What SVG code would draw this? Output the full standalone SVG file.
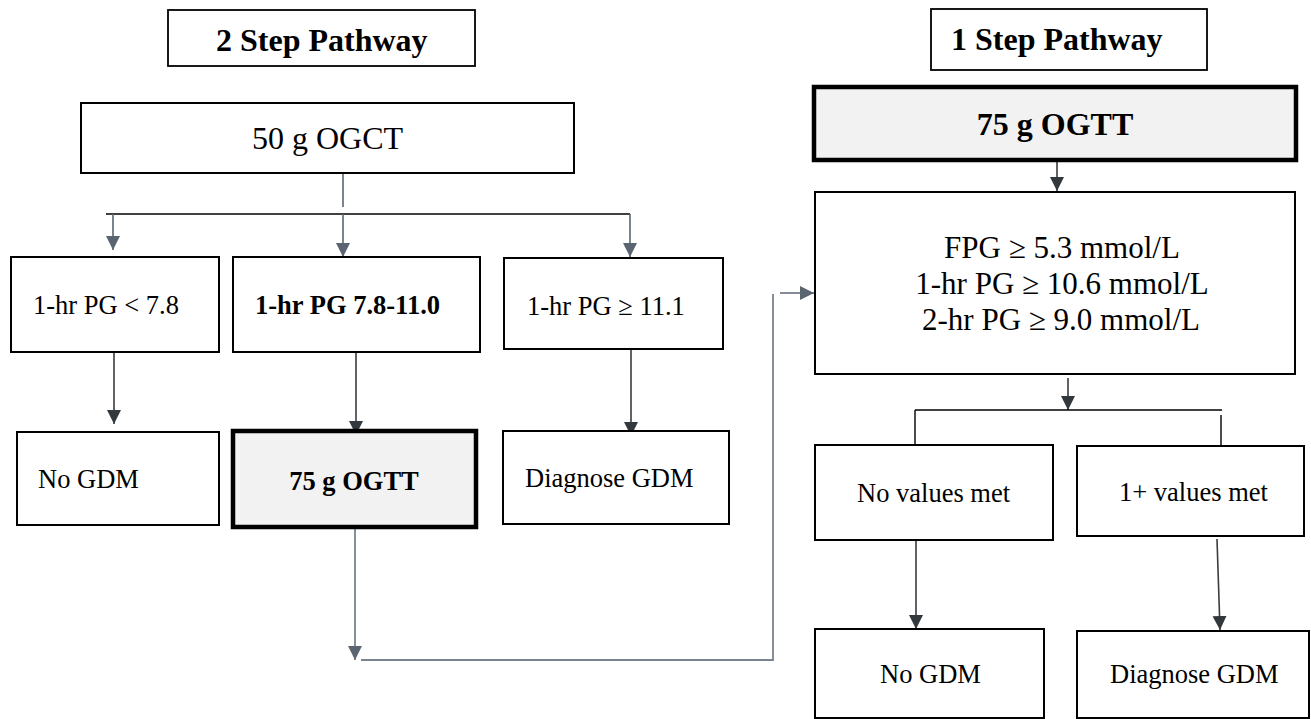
<svg xmlns="http://www.w3.org/2000/svg" width="1311" height="719" viewBox="0 0 1311 719">
<defs>
<style>
.box{fill:#fff;stroke:#000;stroke-width:2}
.hdr{fill:#fff;stroke:#000;stroke-width:1.8}
.thick{fill:#f2f2f2;stroke:#000;stroke-width:4.5}
.t{font-family:"Liberation Serif","Times New Roman",serif;fill:#000}
.s{font-size:26.5px}
.b{font-weight:bold}
.big{font-size:32px}
.mid{font-size:31px}
.c{text-anchor:middle}
.g{stroke:#5b6572;stroke-width:1.6;fill:none}
.d{stroke:#383d42;stroke-width:1.6;fill:none}
.k{stroke:#000;stroke-width:1.4;fill:none}
.lg{stroke:#7a848f;stroke-width:1.8;fill:none}
</style>
<marker id="ag" markerUnits="userSpaceOnUse" markerWidth="15" markerHeight="15" refX="14" refY="7" orient="auto"><path d="M0,0 L14,7 L0,14 z" fill="#5b6572"/></marker>
<marker id="ad" markerUnits="userSpaceOnUse" markerWidth="15" markerHeight="15" refX="14" refY="7" orient="auto"><path d="M0,0 L14,7 L0,14 z" fill="#33383d"/></marker>
</defs>
<g id="connectors">
<line class="g" x1="343" y1="173" x2="343" y2="207"/>
<line class="k" x1="106" y1="214" x2="630" y2="214"/>
<line class="g" x1="113" y1="214" x2="113" y2="250" marker-end="url(#ag)"/>
<line class="g" x1="343" y1="214" x2="343" y2="257" marker-end="url(#ag)"/>
<line class="g" x1="630" y1="214" x2="630" y2="257" marker-end="url(#ag)"/>
<line class="d" x1="114" y1="352" x2="114" y2="424" marker-end="url(#ad)"/>
<line class="d" x1="356" y1="352" x2="356" y2="435" marker-end="url(#ad)"/>
<line class="d" x1="631" y1="342" x2="631" y2="436" marker-end="url(#ad)"/>
<line class="lg" x1="355" y1="527" x2="355" y2="660" marker-end="url(#ag)"/>
<polyline class="lg" points="361,660 773,660 773,294"/>
<line class="g" x1="780" y1="293" x2="814" y2="293" marker-end="url(#ag)"/>
<line class="d" x1="1057" y1="160" x2="1057" y2="191" marker-end="url(#ad)"/>
<line class="d" x1="1068" y1="378" x2="1068" y2="410" marker-end="url(#ad)"/>
<line class="k" x1="915" y1="410" x2="1222" y2="410"/>
<line class="k" x1="915" y1="410" x2="915" y2="445"/>
<line class="k" x1="1221" y1="415" x2="1221" y2="445"/>
<line class="d" x1="916" y1="540" x2="916" y2="629" marker-end="url(#ad)"/>
<line class="d" x1="1217" y1="539" x2="1220" y2="630" marker-end="url(#ad)"/>
</g>
<g id="hdr2">
<rect class="hdr" x="168" y="10" width="307" height="56"/>
<text class="t b big" x="216" y="51">2 Step Pathway</text>
</g>
<g id="ogct">
<rect class="box" x="81" y="103" width="493" height="70" stroke-width="2.5"/>
<text class="t big c" x="327.5" y="149">50 g OGCT</text>
</g>
<g id="lt78">
<rect class="box" x="11" y="257" width="208" height="95"/>
<text class="t s" x="33" y="314">1-hr PG &lt; 7.8</text>
</g>
<g id="mid78">
<rect class="box" x="233" y="257" width="247" height="95"/>
<text class="t s b" x="255" y="314">1-hr PG 7.8-11.0</text>
</g>
<g id="ge111">
<rect class="box" x="504" y="258" width="219" height="91"/>
<text class="t s" x="527" y="315">1-hr PG ≥ 11.1</text>
</g>
<g id="nogdm1">
<rect class="box" x="17" y="432" width="202" height="93"/>
<text class="t s" x="38" y="488">No GDM</text>
</g>
<g id="ogtt1">
<rect class="thick" x="233" y="431" width="243" height="96"/>
<text class="t s b c" x="354" y="490">75 g OGTT</text>
</g>
<g id="diag1">
<rect class="box" x="503" y="431" width="226" height="93"/>
<text class="t s" x="525" y="487">Diagnose GDM</text>
</g>
<g id="hdr1">
<rect class="hdr" x="931" y="9" width="276" height="61"/>
<text class="t b big" x="951" y="50">1 Step Pathway</text>
</g>
<g id="ogtt2">
<rect class="thick" x="814" y="87" width="482" height="73"/>
<text class="t b big c" x="1055" y="135">75 g OGTT</text>
</g>
<g id="criteria">
<rect class="box" x="815" y="192" width="480" height="182"/>
<text class="t mid c" x="1062" y="258">FPG ≥ 5.3 mmol/L</text>
<text class="t mid c" x="1062" y="294">1-hr PG ≥ 10.6 mmol/L</text>
<text class="t mid c" x="1061" y="330">2-hr PG ≥ 9.0 mmol/L</text>
</g>
<g id="novals">
<rect class="box" x="815" y="445" width="238" height="95"/>
<text class="t s" x="857" y="502">No values met</text>
</g>
<g id="onevals">
<rect class="box" x="1077" y="446" width="227" height="90"/>
<text class="t s" x="1119" y="501">1+ values met</text>
</g>
<g id="nogdm2">
<rect class="box" x="815" y="629" width="229" height="89"/>
<text class="t s" x="880" y="683">No GDM</text>
</g>
<g id="diag2">
<rect class="box" x="1077" y="631" width="232" height="87"/>
<text class="t s" x="1110" y="683">Diagnose GDM</text>
</g>
</svg>
